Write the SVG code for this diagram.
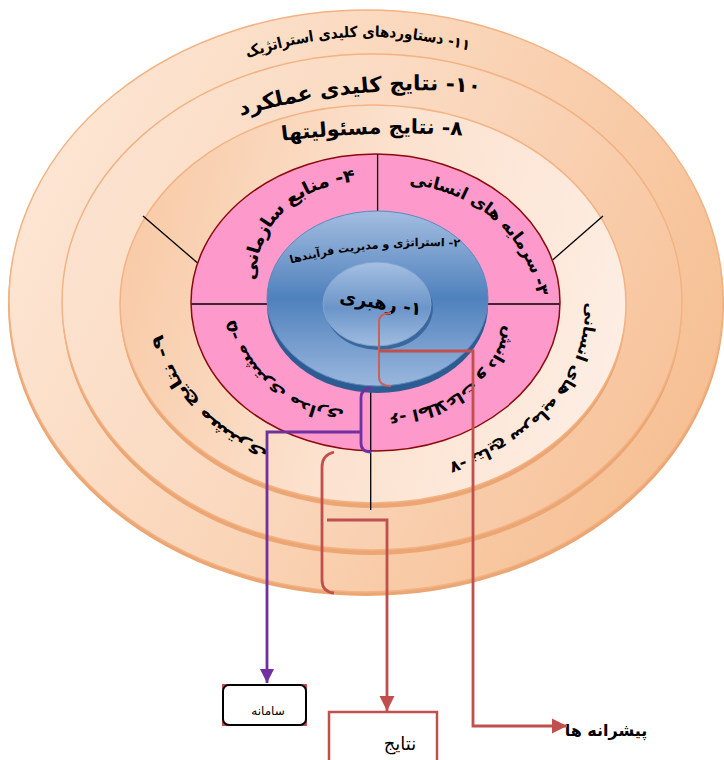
<svg xmlns="http://www.w3.org/2000/svg" width="724" height="760" viewBox="0 0 724 760">
<defs>
<style>
.ar{font-family:"DejaVu Sans","Noto Sans",sans-serif;font-weight:bold;fill:#000}
.arn{font-family:"DejaVu Sans","Noto Sans",sans-serif;fill:#000}
.div{stroke:#000;stroke-width:1.3;fill:none}
.face{stroke:#F3B283;stroke-width:1.5}
.lip{fill:#EBA673}
.red{stroke:#C0504D;stroke-width:2.8;fill:none}
.pur{stroke:#7030A0;stroke-width:2.8;fill:none}
</style>
<linearGradient id="gC" x1="0" y1="0.2" x2="1" y2="0.6">
<stop offset="0" stop-color="#FDE8D7"/><stop offset="0.5" stop-color="#FAD5B8"/><stop offset="1" stop-color="#F6C094"/>
</linearGradient>
<linearGradient id="gB" x1="0" y1="0.2" x2="1" y2="0.6">
<stop offset="0" stop-color="#FCE4D1"/><stop offset="0.5" stop-color="#FAD8BE"/><stop offset="1" stop-color="#F7C49C"/>
</linearGradient>
<linearGradient id="gA" x1="0" y1="0.3" x2="1" y2="0.5">
<stop offset="0" stop-color="#F8CAA6"/><stop offset="0.5" stop-color="#FCE2CF"/><stop offset="1" stop-color="#FDEDE2"/>
</linearGradient>
<linearGradient id="gBlue" x1="0" y1="0" x2="0" y2="1">
<stop offset="0" stop-color="#A3BDE0"/><stop offset="0.5" stop-color="#4F81BD"/><stop offset="1" stop-color="#9AB7DD"/>
</linearGradient>
<linearGradient id="gIn" x1="0" y1="0" x2="0" y2="1">
<stop offset="0" stop-color="#A5BFE1"/><stop offset="0.55" stop-color="#6B95CA"/><stop offset="1" stop-color="#A0BCE0"/>
</linearGradient>
<marker id="mRed" viewBox="0 0 10 10" refX="10" refY="5" markerUnits="userSpaceOnUse" markerWidth="15" markerHeight="17" orient="auto">
<path d="M0,0 L10,5 L0,10 z" fill="#C0504D"/>
</marker>
<marker id="mPur" viewBox="0 0 10 10" refX="10" refY="5" markerUnits="userSpaceOnUse" markerWidth="14" markerHeight="14" orient="auto">
<path d="M0,0 L10,5 L0,10 z" fill="#7030A0"/>
</marker>
<path id="p11" d="M238,56 Q355,12 478,48"/>
<path id="p10" d="M232,111 Q360,73 488,87"/>
<path id="p8" d="M272,135 Q372,122 472,129"/>
<path id="p4" d="M248,290 C246,222 292,176 365,174"/>
<path id="p3" d="M395,178 C470,178 540,230 545,310"/>
<path id="p5" d="M350,416 C300,420 240,380 228,315"/>
<path id="p6" d="M512,318 C505,380 450,418 380,420"/>
<path id="p7" d="M592,292 C594,382 542,442 440,472"/>
<path id="p9" d="M275,462 C215,435 165,395 155,325"/>
<path id="p2" d="M288,260 Q372,238 462,243"/>
</defs>

<g id="disc-outer">
<ellipse class="lip" cx="366" cy="305" rx="358" ry="291"/>
<ellipse class="face" cx="366" cy="301" rx="357" ry="291" fill="url(#gC)"/>
</g>
<g id="disc-middle">
<ellipse class="lip" cx="372" cy="307" rx="310" ry="248"/>
<ellipse class="face" cx="372" cy="302" rx="310" ry="248" fill="url(#gB)"/>
</g>
<g id="disc-inner">
<ellipse class="lip" cx="373" cy="309" rx="253" ry="199"/>
<ellipse class="face" cx="373" cy="304" rx="253" ry="199" fill="url(#gA)"/>
</g>
<g id="dividers-outer">
<path class="div" d="M143,216 L197.6,263"/>
<path class="div" d="M603,216 L552.6,260"/>
<path class="div" d="M370.7,392 V510"/>
</g>
<g id="disc-pink">
<ellipse cx="375.5" cy="302.5" rx="184.5" ry="148.5" fill="#FD99CB" stroke="#8B0A0A" stroke-width="1.5"/>
<path class="div" d="M377.6,154 V212"/>
<path class="div" d="M191.6,304 H268"/>
<path class="div" d="M487,304 H559.5"/>
<path class="div" d="M370.7,392 V451"/>
</g>
<g id="disc-blue">
<ellipse cx="377.5" cy="305" rx="110.5" ry="88" fill="#2D5C92"/>
<ellipse cx="377.5" cy="298.5" rx="110.5" ry="87.5" fill="url(#gBlue)" stroke="#5A88C0" stroke-width="1"/>
</g>
<g id="disc-core">
<ellipse cx="379" cy="308" rx="54" ry="42" fill="#3A679C"/>
<ellipse cx="377" cy="304" rx="54" ry="42" fill="url(#gIn)" stroke="#7FA3D2" stroke-width="1"/>
</g>

<g id="node-11"><text class="ar" font-size="15" direction="rtl" text-anchor="middle" dominant-baseline="central"><textPath href="#p11" startOffset="50%" textLength="228" lengthAdjust="spacingAndGlyphs">۱۱- دستاوردهای کلیدی استراتژیک</textPath></text></g>
<g id="node-10"><text class="ar" font-size="21" direction="rtl" text-anchor="middle" dominant-baseline="central"><textPath href="#p10" startOffset="50%" textLength="245" lengthAdjust="spacingAndGlyphs">۱۰- نتایج کلیدی عملکرد</textPath></text></g>
<g id="node-8"><text class="ar" font-size="20" direction="rtl" text-anchor="middle" dominant-baseline="central"><textPath href="#p8" startOffset="50%" textLength="182" lengthAdjust="spacingAndGlyphs">۸- نتایج مسئولیتها</textPath></text></g>
<g id="node-4"><text class="ar" font-size="18" direction="rtl" text-anchor="middle" dominant-baseline="central"><textPath href="#p4" startOffset="50%" textLength="165" lengthAdjust="spacingAndGlyphs">۴- منابع سازمانی</textPath></text></g>
<g id="node-3"><text class="ar" font-size="17" direction="rtl" text-anchor="middle" dominant-baseline="central"><textPath href="#p3" startOffset="50%" textLength="190" lengthAdjust="spacingAndGlyphs">۳- سرمایه های انسانی</textPath></text></g>
<g id="node-5"><text class="ar" font-size="16" direction="rtl" text-anchor="middle" dominant-baseline="central"><textPath href="#p5" startOffset="50%" textLength="160" lengthAdjust="spacingAndGlyphs">۵- مشتری مداری</textPath></text></g>
<g id="node-6"><text class="ar" font-size="16" direction="rtl" text-anchor="middle" dominant-baseline="central"><textPath href="#p6" startOffset="50%" textLength="165" lengthAdjust="spacingAndGlyphs">۶- اطلاعات و دانش</textPath></text></g>
<g id="node-7"><text class="ar" font-size="16" direction="rtl" text-anchor="middle" dominant-baseline="central"><textPath href="#p7" startOffset="50%" textLength="235" lengthAdjust="spacingAndGlyphs">۷- نتایج سرمایه های انسانی</textPath></text></g>
<g id="node-9"><text class="ar" font-size="17" direction="rtl" text-anchor="middle" dominant-baseline="central"><textPath href="#p9" startOffset="50%" textLength="170" lengthAdjust="spacingAndGlyphs">۹- نتایج مشتری</textPath></text></g>
<g id="node-2"><text class="ar" font-size="11" direction="rtl" text-anchor="middle" dominant-baseline="central"><textPath href="#p2" startOffset="50%" textLength="172" lengthAdjust="spacingAndGlyphs">۲- استراتژی و مدیریت فرآیندها</textPath></text></g>
<g id="node-1"><text class="ar" font-size="18" direction="rtl" text-anchor="middle" x="381" y="309" transform="rotate(9 381 302)">۱- رهبری</text></g>

<g id="node-samaneh">
<rect x="222" y="684" width="85" height="42" fill="#C0504D"/>
<rect x="223" y="685" width="83" height="40" rx="6" fill="#fff" stroke="#000" stroke-width="2"/>
<text class="arn" font-size="12" direction="rtl" text-anchor="middle" x="268" y="715">سامانه</text>
</g>
<g id="node-nataij">
<rect x="329" y="712" width="108" height="60" fill="#fff" stroke="#C0504D" stroke-width="2.5"/>
<text class="arn" font-size="18" direction="rtl" text-anchor="middle" x="400" y="750">نتایج</text>
</g>
<g id="node-pishraneh">
<text class="ar" font-size="16" direction="rtl" text-anchor="middle" x="606" y="736">پیشرانه ها</text>
</g>

<g id="connectors">
<path d="M391,313 Q379,313 379,322 V377 Q379,386 391,386" stroke="#C9605A" stroke-width="2" fill="none"/>
<path class="red" d="M379,351 H473 V726 H567" marker-end="url(#mRed)"/>
<path class="pur" d="M371,388 Q361,389 361,398 V443 Q361,452 371,452"/>
<path class="pur" d="M361,432 H267 V683" marker-end="url(#mPur)"/>
<path class="red" d="M334,452 Q322,455 322,467 V580 Q322,592 334,593"/>
<path class="red" d="M327,520 H387 V711" marker-end="url(#mRed)"/>
</g>
</svg>
